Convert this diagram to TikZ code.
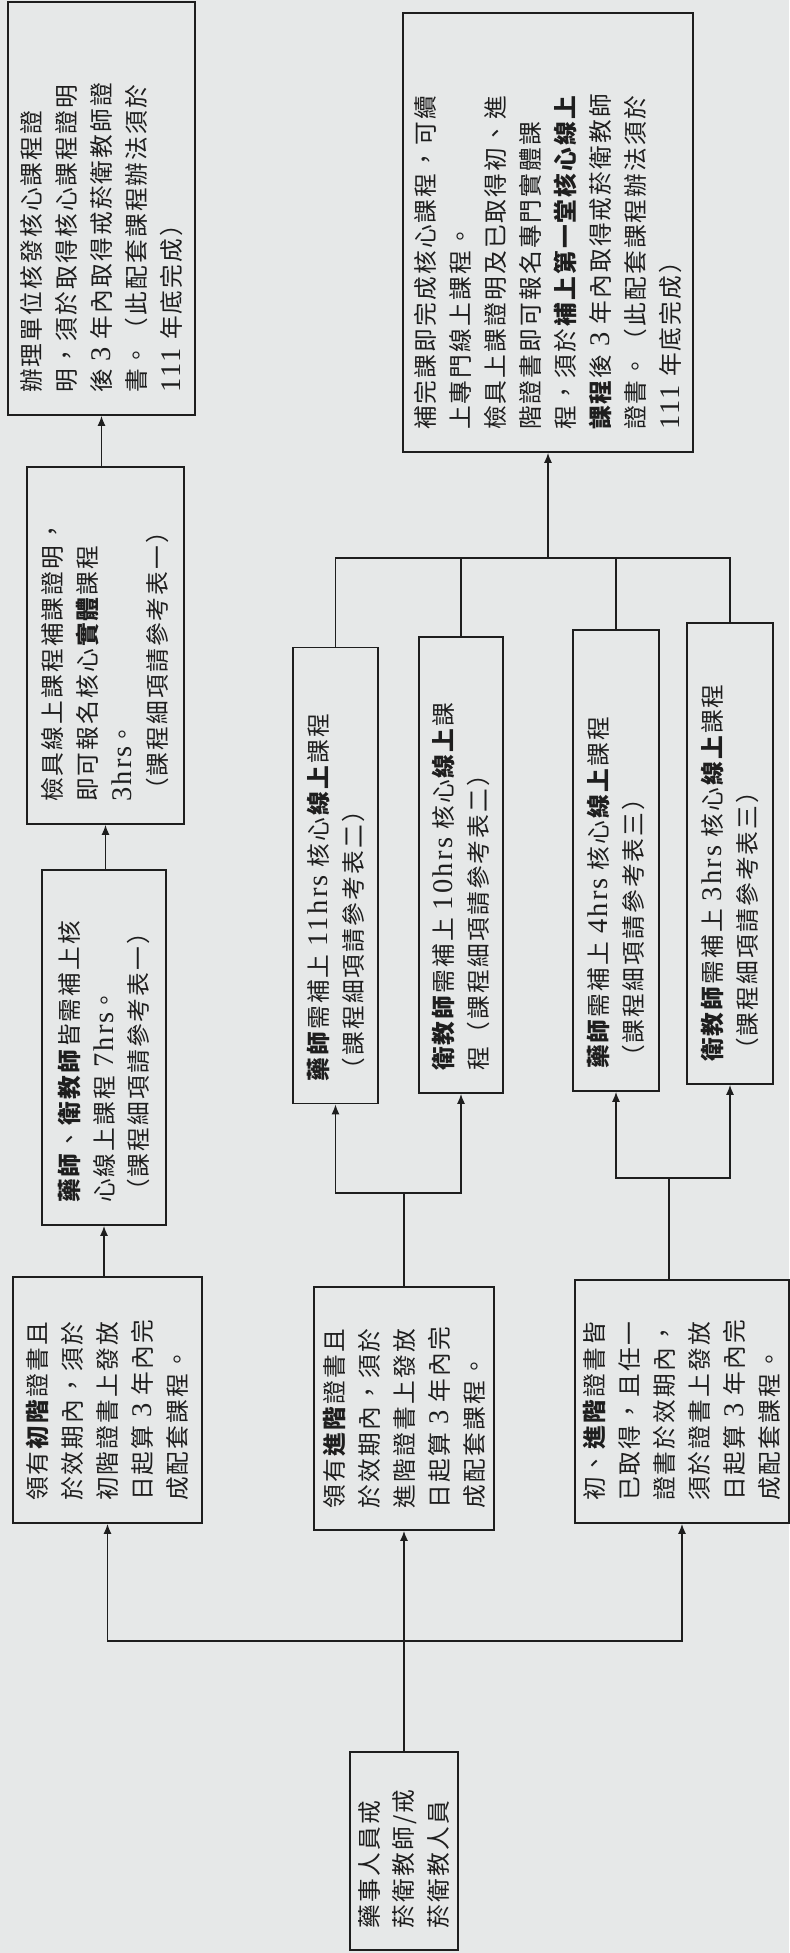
\documentclass[tikz,border=0pt]{standalone}
\usepackage{fontspec}
\usepackage{xcolor}
\usepackage{tikz}
\usetikzlibrary{arrows.meta}
\newfontfamily\cjk[LetterSpace=9]{Noto Sans CJK TC}
\newfontfamily\latin[Scale=1.2,LetterSpace=8]{Liberation Serif}
\newcommand\lat[1]{{\latin #1}}
\definecolor{paper}{RGB}{230,232,232}
\definecolor{ink}{RGB}{30,30,30}

\begin{document}
\begin{tikzpicture}[x=0.02cm,y=-0.02cm,
	box/.style={draw=ink,line width=1pt,rotate=90,align=left,inner xsep=0.44cm,
		text=ink,font=\cjk\fontsize{13.5}{19.9}\selectfont},
	link/.style={draw=ink,line width=0.8pt},
	>={Latex[length=2mm,width=1.6mm]}]
\useasboundingbox (0,0) rectangle (789,1953);
\fill[paper] (0,0) rectangle (789,1953);
%
\node[box,text width=3.08cm,minimum height=2.16cm] (root) at (404,1851)
	{藥事人員戒\\菸衛教師/戒\\菸衛教人員};
%
\node[box,text width=4.04cm,minimum height=3.78cm] (L1) at (107.5,1400)
	{領有\textbf{初階}證書且\\於效期內，須於\\初階證書上發放\\日起算 \lat{3} 年內完\\成配套課程。};
\node[box,text width=3.98cm,minimum height=3.6cm] (C1) at (404,1408.5)
	{領有\textbf{進階}證書且\\於效期內，須於\\進階證書上發放\\日起算 \lat{3} 年內完\\成配套課程。};
\node[box,text width=3.98cm,minimum height=4.28cm] (R1) at (682,1401.5)
	{初、\textbf{進階}證書皆\\已取得，且任一\\證書於效期內，\\須於證書上發放\\日起算 \lat{3} 年內完\\成配套課程。};
%
\node[box,text width=6.22cm,minimum height=2.48cm] (L2) at (104,1047.5)
	{\textbf{藥師}、\textbf{衛教師}皆需補上核\\心線上課程 \lat{7hrs}。\\（課程細項請參考表一）};
\node[box,text width=6.26cm,minimum height=3.14cm] (L3) at (105.5,645.5)
	{檢具線上課程補課證明，\\即可報名核心\textbf{實體}課程\\\lat{3hrs}。\\（課程細項請參考表一）};
\node[box,text width=7.38cm,minimum height=3.74cm] (L4) at (101.5,208.5)
	{辦理單位核發核心課程證\\明，須於取得核心課程證明\\後 \lat{3} 年內取得戒菸衛教師證\\書。（此配套課程辦法須於\\\lat{111} 年底完成）};
%
\node[box,text width=8.24cm,minimum height=1.7cm] (C2) at (335.5,875.5)
	{\textbf{藥師}需補上 \lat{11hrs} 核心\textbf{線上}課程\\（課程細項請參考表二）};
\node[box,text width=8.24cm,minimum height=1.68cm] (C3) at (461,865)
	{\textbf{衛教師}需補上 \lat{10hrs} 核心\textbf{線上}課\\程（課程細項請參考表二）};
\node[box,text width=8.34cm,minimum height=1.72cm] (R2) at (616,860.5)
	{\textbf{藥師}需補上 \lat{4hrs} 核心\textbf{線上}課程\\（課程細項請參考表三）};
\node[box,text width=8.34cm,minimum height=1.72cm] (R3) at (730,853.5)
	{\textbf{衛教師}需補上 \lat{3hrs} 核心\textbf{線上}課程\\（課程細項請參考表三）};
%
\node[box,text width=7.9cm,minimum height=5.8cm] (fin) at (548,232.5)
	{補完課即完成核心課程，可續\\上專門線上課程。\\檢具上課證明及已取得初、進\\階證書即可報名專門實體課\\程，須於\textbf{補上第一堂核心線上}\\\textbf{課程}後 \lat{3} 年內取得戒菸衛教師\\證書。（此配套課程辦法須於\\\lat{111} 年底完成）};
%
\coordinate (j0) at (404,1641);
\coordinate (j1) at (404,1193);
\coordinate (j2) at (669,1178);
\coordinate (j3) at (548,558);
%
\draw [link] (root.east) -- (j0);
\draw [link,->] (j0) -| (L1.west);
\draw [link,->] (j0) -- (C1.west);
\draw [link,->] (j0) -| (R1.west);
%
\draw [link,->] (L2.west |- L1.east) -- (L2.west);
\draw [link,->] (L3.west |- L2.east) -- (L3.west);
\draw [link,->] (L4.west |- L3.east) -- (L4.west);
%
\draw [link] (C1.east) -- (j1);
\draw [link,->] (j1) -| (C2.west);
\draw [link,->] (j1) -| (C3.west);
\draw [link] (j2 |- R1.east) -- (j2);
\draw [link,->] (j2) -| (R2.west);
\draw [link,->] (j2) -| (R3.west);
%
\draw [link] (C2.east) |- (j3) -| (R3.east);
\draw [link] (C3.east) -- (C3.east |- j3);
\draw [link] (R2.east) -- (R2.east |- j3);
\draw [link,->] (j3) -- (fin.west);
\end{tikzpicture}
\end{document}
